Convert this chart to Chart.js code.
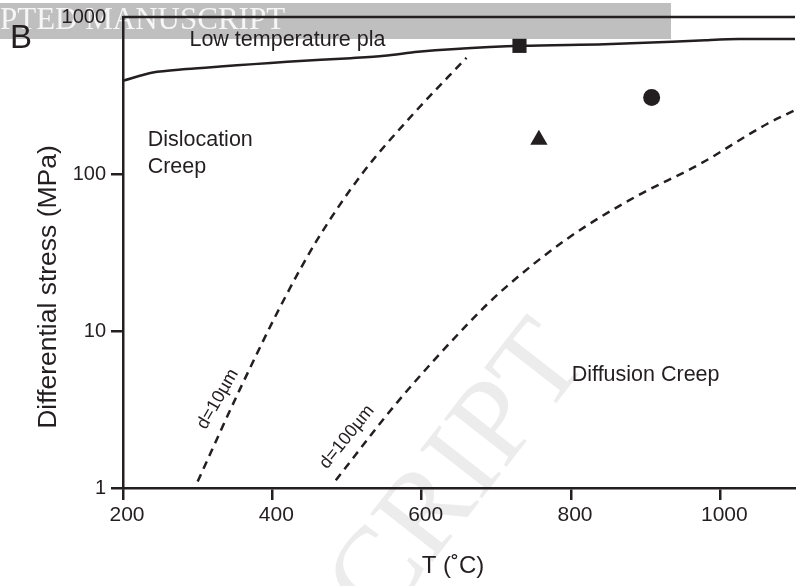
<!DOCTYPE html>
<html>
<head>
<meta charset="utf-8">
<script src="https://cdn.jsdelivr.net/npm/chart.js@4.4.1/dist/chart.umd.min.js"></script>
<style>
  body { margin: 0; background: #fff; }
</style>
</head>
<body>
<canvas id="canvas" width="796" height="586"></canvas>
<script>
// low temperature plasticity boundary
var lowTempT = [200, 240, 285, 330, 375, 420, 465, 505, 550, 595, 640, 735, 845, 935, 980, 1025, 1100];
var lowTempStress = [393, 443, 466, 484, 501, 518, 534, 547, 566, 600, 624, 655, 671, 695, 711, 723, 723];

// dislocation / diffusion creep boundaries
var d10T = [300, 356, 416, 460, 520, 589, 660];
var d10Stress = [1.1, 4.2, 16, 38, 100, 242, 550];
var d100T = [485, 567, 665, 707, 796, 885, 973, 1063, 1100];
var d100Stress = [1.12, 3.5, 11.5, 18, 39, 71, 116, 209, 255];

// samples
var sampleT = [731, 908, 757];
var sampleStress = [655, 307, 165];
var sampleStyle = ['rect', 'circle', 'triangle'];

var xTicks = [200, 400, 600, 800, 1000];
var yTicks = [1, 10, 100, 1000];

var INK = '#231f20';
var SANS = '"Liberation Sans", Arial, Helvetica, sans-serif';

function toPoints(xs, ys) {
    return xs.map(function (x, i) { return { x: x, y: ys[i] }; });
}

var backdrop = {
    id: 'backdrop',
    beforeDraw: function (chart) {
        var ctx = chart.ctx;
        ctx.save();
        ctx.fillStyle = '#fff';
        ctx.fillRect(0, 0, chart.width, chart.height);

        // big diagonal watermark
        ctx.font = '120px "Liberation Serif", "Times New Roman", serif';
        ctx.fillStyle = '#ececec';
        ctx.translate(590, 360);
        ctx.rotate(-52 * Math.PI / 180);
        ctx.textAlign = 'right';
        ctx.textBaseline = 'alphabetic';
        ctx.fillText('ACCEPTED MANUSCRIPT', 0, 0);
        ctx.restore();

        // grey banner
        ctx.save();
        ctx.fillStyle = '#bfbfbf';
        ctx.fillRect(0, 3, 671, 36);
        ctx.font = '31px "Liberation Serif", "Times New Roman", serif';
        ctx.fillStyle = '#f6f6f6';
        ctx.textBaseline = 'alphabetic';
        var off = ctx.measureText('ACCE').width;
        ctx.fillText('ACCEPTED MANUSCRIPT', -off, 29);
        ctx.restore();
    },
    afterDraw: function (chart) {
        var ctx = chart.ctx;
        var area = chart.chartArea;
        var xs = chart.scales.x, ys = chart.scales.y;
        ctx.save();
        // top frame line
        ctx.strokeStyle = INK;
        ctx.lineWidth = 2.5;
        ctx.beginPath();
        ctx.moveTo(area.left, area.top);
        ctx.lineTo(area.right, area.top);
        ctx.stroke();

        ctx.fillStyle = INK;
        ctx.textBaseline = 'alphabetic';
        ctx.textAlign = 'left';
        ctx.font = '33px ' + SANS;
        ctx.fillText('B', 10, 48);

        ctx.font = '21.5px ' + SANS;
        ctx.fillText('Low temperature pla', xs.getPixelForValue(289), ys.getPixelForValue(655));
        ctx.fillText('Dislocation', xs.getPixelForValue(233), ys.getPixelForValue(151));
        ctx.fillText('Creep', xs.getPixelForValue(233), ys.getPixelForValue(102));
        ctx.fillText('Diffusion Creep', xs.getPixelForValue(801), ys.getPixelForValue(4.8));

        ctx.font = '18px ' + SANS;
        ctx.textAlign = 'center';
        ctx.textBaseline = 'middle';
        [['d=10\u00b5m', 327, 3.68, -60], ['d=100\u00b5m', 500, 2.11, -51]].forEach(function (l) {
            ctx.save();
            ctx.translate(xs.getPixelForValue(l[1]), ys.getPixelForValue(l[2]));
            ctx.rotate(l[3] * Math.PI / 180);
            ctx.fillText(l[0], 0, 0);
            ctx.restore();
        });

        // axis titles
        ctx.font = '24px ' + SANS;
        ctx.fillText('T (\u02daC)', 453, 566);
        ctx.font = '26.5px ' + SANS;
        ctx.save();
        ctx.translate(49, 287);
        ctx.rotate(-Math.PI / 2);
        ctx.fillText('Differential stress (MPa)', 0, 0);
        ctx.restore();
        ctx.restore();
    }
};

var lineStyle = {
    borderColor: INK,
    borderWidth: 2.5,
    pointRadius: 0,
    fill: false
};

var ctx = document.getElementById('canvas').getContext('2d');
var chart = new Chart(ctx, {
    type: 'line',
    data: {
        datasets: [
            Object.assign({ label: 'Low temperature plasticity', data: toPoints(lowTempT, lowTempStress), tension: 0.3 }, lineStyle),
            Object.assign({ label: 'd=10um', data: toPoints(d10T, d10Stress), cubicInterpolationMode: 'monotone', borderDash: [8, 6] }, lineStyle),
            Object.assign({ label: 'd=100um', data: toPoints(d100T, d100Stress), cubicInterpolationMode: 'monotone', borderDash: [8, 6] }, lineStyle),
            {
                label: 'samples',
                data: toPoints(sampleT, sampleStress),
                showLine: false,
                pointStyle: sampleStyle,
                pointRadius: [10, 8.5, 10],
                pointBackgroundColor: INK,
                pointBorderColor: INK,
                pointBorderWidth: 0,
                clip: false
            }
        ]
    },
    options: {
        responsive: false,
        animation: false,
        layout: { autoPadding: false, padding: { top: 16, right: 1, left: 0, bottom: 0 } },
        plugins: { legend: { display: false }, tooltip: { enabled: false } },
        scales: {
            x: {
                type: 'linear',
                min: 200,
                max: 1100,
                afterBuildTicks: function (s) { s.ticks = xTicks.map(function (v) { return { value: v }; }); },
                afterFit: function (s) { s.height = 98; s.paddingLeft = 0; s.paddingRight = 0; },
                grid: { drawOnChartArea: false, drawTicks: true, tickLength: 12, color: INK, lineWidth: 2.5 },
                border: { display: true, color: INK, width: 2.5 },
                ticks: {
                    color: INK, font: { family: SANS, size: 21 }, padding: 3, maxRotation: 0, labelOffset: 4,
                    callback: function (v) { return String(v); }
                }
            },
            y: {
                type: 'logarithmic',
                min: 1,
                max: 1000,
                afterBuildTicks: function (s) { s.ticks = yTicks.map(function (v) { return { value: v }; }); },
                afterFit: function (s) { s.width = 123; },
                grid: {
                    drawOnChartArea: false, drawTicks: true, tickLength: 12, lineWidth: 2.5,
                    color: function (c) { return c.tick && c.tick.value === 1000 ? 'rgba(0,0,0,0)' : INK; }
                },
                border: { display: true, color: INK, width: 2.5 },
                ticks: {
                    color: INK, font: { family: SANS, size: 20 }, padding: 5,
                    callback: function (v) { return String(v); }
                }
            }
        }
    },
    plugins: [backdrop]
});
</script>
</body>
</html>
